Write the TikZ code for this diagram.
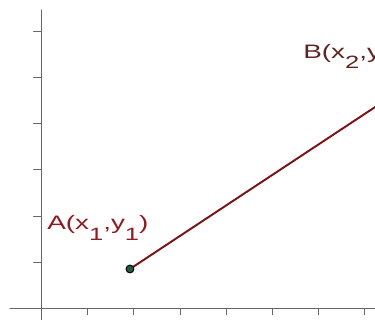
\documentclass[tikz,border=0pt]{standalone}
\usepackage{fontspec}
\setmainfont{Liberation Sans}
\definecolor{axisgray}{HTML}{666666}
\definecolor{segred}{HTML}{7A1414}
\definecolor{labred}{HTML}{8E1B22}
\definecolor{labbrown}{HTML}{5E2424}
\definecolor{ptgreen}{HTML}{1F5C43}
\newcommand{\lowidx}[1]{\raisebox{-6.5pt}{\fontsize{11}{12}\selectfont #1}}
\newcommand{\widetext}[1]{\scalebox{1.43}[1]{#1}}
\begin{document}
\begin{tikzpicture}[font=\fontsize{12}{14}\selectfont, line join=round, line cap=round,
	axis/.style={axisgray, line width=0.9pt},
	tick/.style={axisgray, line width=0.7pt},
	ptlabel/.style={anchor=base west, inner sep=0pt}]
	\useasboundingbox (-0.898,-0.249) rectangle (7.219,6.677);
	\clip (-0.898,-0.249) rectangle (7.219,6.677);
	% Trục toạ độ
	\draw[axis] (-0.68,0)--(7.4,0);
	\draw[axis] (0,-0.4)--(0,6.46);
	% Mốc trục x thủ công
	\draw[tick] (1,0)--(1,-0.13);
	\draw[tick] (2,0)--(2,-0.13);
	\draw[tick] (3,0)--(3,-0.13);
	\draw[tick] (4,0)--(4,-0.13);
	\draw[tick] (5,0)--(5,-0.13);
	\draw[tick] (6,0)--(6,-0.13);
	\draw[tick] (7,0)--(7,-0.13);
	% Mốc trục y thủ công
	\draw[tick] (0,1)--(-0.17,1);
	\draw[tick] (0,2)--(-0.17,2);
	\draw[tick] (0,3)--(-0.17,3);
	\draw[tick] (0,4)--(-0.17,4);
	\draw[tick] (0,5)--(-0.17,5);
	\draw[tick] (0,6)--(-0.17,6);
	% Đoạn thẳng AB
	\coordinate (A) at (1.915,0.855);
	\coordinate (B) at (7.615,4.62);
	\draw[segred, line width=1.2pt] (A)--(B);
	\filldraw[fill=ptgreen, draw=black, line width=0.6pt] (A) circle (0.085);
	% Nhãn các điểm
	\node[ptlabel, text=labred] (labA) at (0.119,1.70) {\widetext{A(x\lowidx{1},y\lowidx{1})}};
	\node[ptlabel, text=labbrown] (labB) at (5.66,5.42) {\widetext{B(x\lowidx{2},y\lowidx{2})}};
\end{tikzpicture}
\end{document}
